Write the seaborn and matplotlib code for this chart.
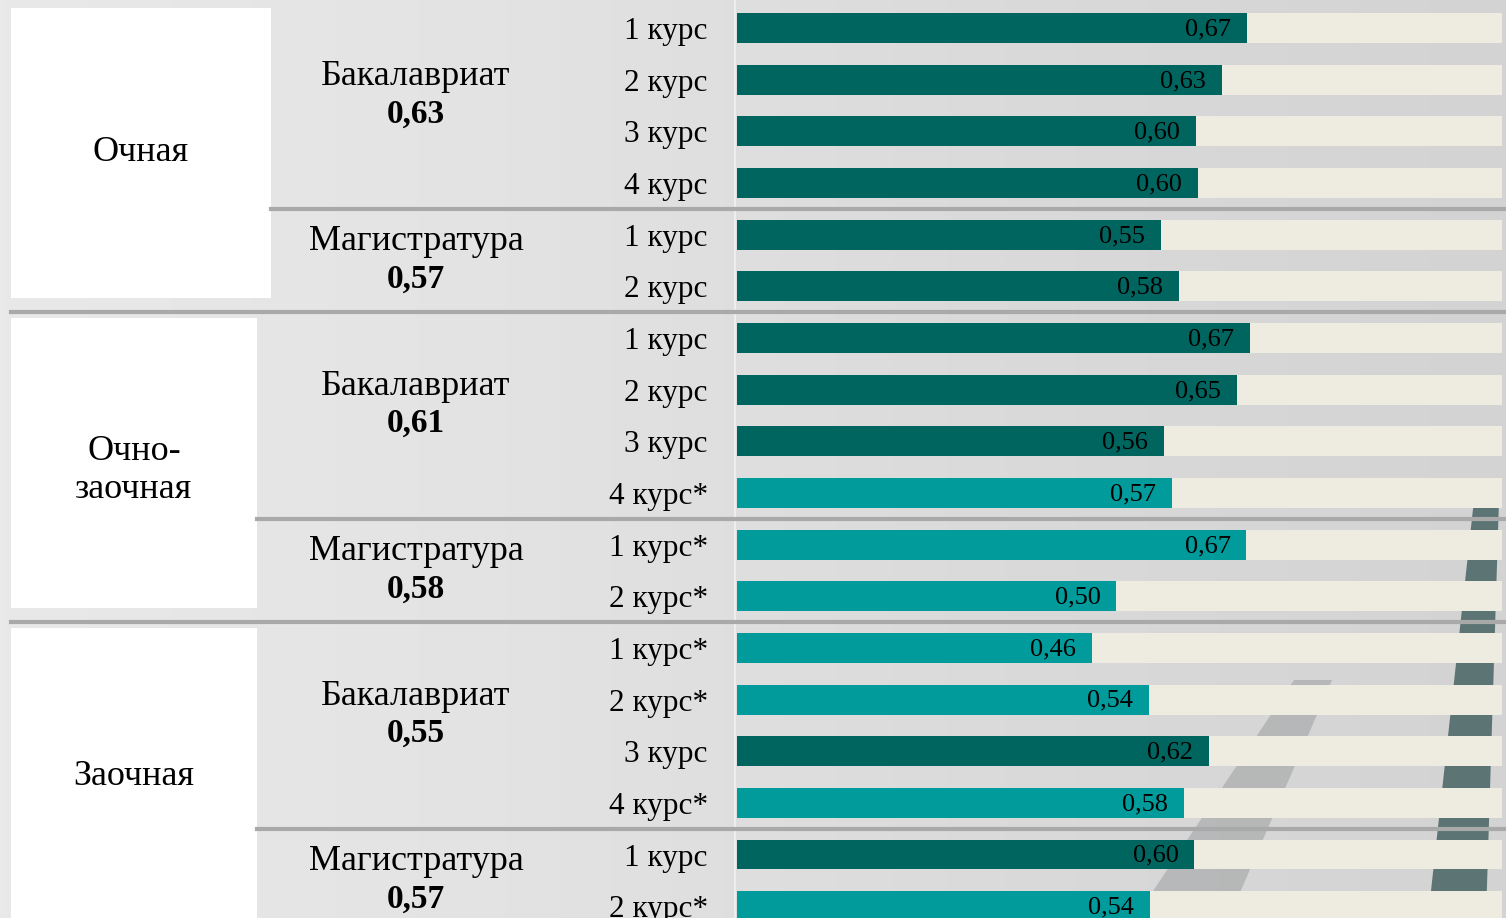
import numpy as np
import pandas as pd
import matplotlib.pyplot as plt
import seaborn as sns
from matplotlib.transforms import blended_transform_factory
from matplotlib.patches import Rectangle, Polygon
from matplotlib.lines import Line2D

# data
forms = ['Очная', 'Очно-\nзаочная', 'Заочная']
levels = ['Бакалавриат', 'Магистратура', 'Бакалавриат', 'Магистратура', 'Бакалавриат', 'Магистратура']
level_avg = ['0,63', '0,57', '0,61', '0,58', '0,55', '0,57']
level_rows = [4, 2, 4, 2, 4, 2]
courses = ['1 курс', '2 курс', '3 курс', '4 курс', '1 курс', '2 курс',
           '1 курс', '2 курс', '3 курс', '4 курс*', '1 курс*', '2 курс*',
           '1 курс*', '2 курс*', '3 курс', '4 курс*', '1 курс', '2 курс*']
values = [0.667, 0.634, 0.600, 0.602, 0.554, 0.578,
          0.671, 0.654, 0.558, 0.569, 0.666, 0.496,
          0.464, 0.539, 0.617, 0.584, 0.598, 0.540]

DARK = '#00655f'
LIGHT = '#009b9a'
CREAM = '#eeebe0'
SEP = '#a9a9a9'
FONT = 'Liberation Serif'

df = pd.DataFrame({'key': [str(i) for i in range(len(values))],
                   'course': courses, 'value': values})
df['full'] = 1.0
df['kind'] = np.where(df.course.str.endswith('*'), 'star', 'plain')

W, H = 1506, 918
fig = plt.figure(figsize=(W / 100, H / 100), dpi=100)

# background with a couple of decorative stripes
bgax = fig.add_axes([0, 0, 1, 1])
grad = np.linspace(0, 1, 256)[None, :]
bgax.imshow(grad, aspect='auto', extent=[0, W, H, 0],
            cmap=sns.blend_palette(['#e9e9e9', '#e3e3e3', '#dadada', '#d3d3d3'], as_cmap=True))
bgax.add_patch(Polygon([(1294, 680), (1332, 680), (1229, 918), (1135, 918)],
                       facecolor='#8f9495', alpha=0.45, edgecolor='none'))
bgax.add_patch(Polygon([(1474, 500), (1499, 500), (1486, 918), (1428, 918)],
                       facecolor='#5d7474', edgecolor='none'))
bgax.plot([735.5, 735.5], [0, H], color='#eeeeee', lw=1.5)
bgax.set_xlim(0, W)
bgax.set_ylim(H, 0)
bgax.set_axis_off()

ax = fig.add_axes([737 / W, 1 - 932 / H, (1502 - 737) / W, (932 - 2.2) / H])
ax.patch.set_alpha(0)
sns.barplot(data=df, y='key', x='full', color=CREAM, width=0.58, saturation=1,
            linewidth=0, ax=ax)
sns.barplot(data=df, y='key', x='value', hue='kind', palette={'plain': DARK, 'star': LIGHT},
            dodge=False, width=0.58, saturation=1, linewidth=0, legend=False, ax=ax)
ax.set_xlim(0, 1)
ax.set_ylim(len(values) - 0.5, -0.5)
ax.set_xticks([])
ax.set_yticks(range(len(values)))
ax.set_yticklabels(courses, fontsize=22.5, family=FONT)
ax.tick_params(axis='y', length=0, pad=21)
ax.set_xlabel('')
ax.set_ylabel('')
sns.despine(ax=ax, left=True, bottom=True)

for i, v in enumerate(values):
    ax.annotate(f'{v:.2f}'.replace('.', ','), (v, i), xytext=(-11.5, -1),
                textcoords='offset points', ha='right', va='center',
                fontsize=19, family=FONT)

# left panel: forms and levels
trans = blended_transform_factory(fig.transFigure, ax.transData)
box_right = [271, 257, 257]
form_dy = [-0.1, 0.07, -0.02]
row = 0
for f, form in enumerate(forms):
    first = row
    n = level_rows[2 * f] + level_rows[2 * f + 1]
    last = first + n - 1
    x1 = box_right[f] / W
    fig.add_artist(Rectangle((11 / W, first - 0.38), x1 - 11 / W, (last + 0.22) - (first - 0.38),
                             transform=trans, facecolor='white', edgecolor='none', zorder=0.5))
    fig.text((11 + box_right[f]) / 2 / W, first + (n - 1) / 2 + form_dy[f], form, transform=trans,
             ha='center', va='center', fontsize=26, family=FONT, linespacing=1.2)
    for k in range(2):
        idx = 2 * f + k
        lo = row
        hi = row + level_rows[idx] - 1
        c = (lo + hi) / 2 - (0.2 if k == 0 else 0)
        fig.text(416 / W, c - 0.36, levels[idx], transform=trans, ha='center', va='center',
                 fontsize=26, family=FONT)
        fig.text(416 / W, c + 0.36, level_avg[idx], transform=trans, ha='center', va='center',
                 fontsize=24, family=FONT, fontweight='bold')
        row = hi + 1
        if k == 0:
            fig.add_artist(Line2D([x1, 1], [row - 0.5, row - 0.5], transform=trans,
                                  color=SEP, lw=3, zorder=0.6))
    if f < len(forms) - 1:
        fig.add_artist(Line2D([11 / W, 1], [row - 0.5, row - 0.5], transform=trans,
                              color=SEP, lw=3, zorder=0.6))

fig.savefig('out.png', dpi=100)
